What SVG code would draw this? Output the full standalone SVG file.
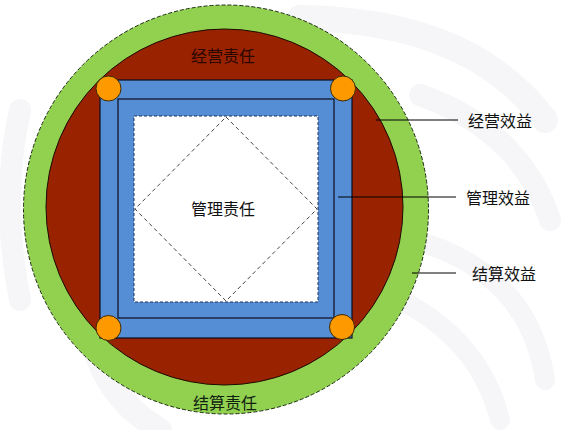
<svg xmlns="http://www.w3.org/2000/svg" width="572" height="430" viewBox="0 0 572 430">
<style>
.lbl{font-family:"Noto Sans CJK SC","Noto Sans",sans-serif;font-size:16px;fill:#111;text-anchor:middle;dominant-baseline:central}
.lead{stroke:#000;stroke-width:1;fill:none}
.wm{fill:none;stroke:#f6f6f8;stroke-linecap:round}
.dot{fill:#ff9900;stroke:#3a2a00;stroke-width:1}
</style>
<rect width="572" height="430" fill="#ffffff"/>
<g id="watermark">
<path class="wm" stroke-width="26" d="M300 18 Q470 20 545 120"/>
<path class="wm" stroke-width="22" d="M420 95 Q520 130 550 220"/>
<path class="wm" stroke-width="20" d="M430 245 Q530 280 545 380"/>
<path class="wm" stroke-width="20" d="M400 300 Q480 340 500 420"/>
<path class="wm" stroke-width="22" d="M20 110 Q0 200 20 300"/>
<path class="wm" stroke-width="24" d="M95 350 Q110 400 160 430"/>
</g>
<g id="outer-ring">
<ellipse cx="226" cy="209.5" rx="202.5" ry="204.5" fill="#92d050" stroke="#1a2a10" stroke-width="1" stroke-dasharray="4,2"/>
</g>
<g id="inner-circle">
<ellipse cx="224.5" cy="207" rx="178.5" ry="178" fill="#992200" stroke="#1a0a00" stroke-width="1"/>
</g>
<g id="frame">
<rect x="100" y="80" width="252" height="258" fill="#558ed5" stroke="#0a0a20" stroke-width="1.2"/>
<rect x="118" y="99" width="216" height="219" fill="#558ed5" stroke="#0a0a20" stroke-width="1.2"/>
</g>
<g id="core">
<rect x="134" y="116" width="184" height="186" fill="#ffffff" stroke="#1f3060" stroke-width="1" stroke-dasharray="3,2"/>
<polygon points="226,117 317,209 226,301 135,209" fill="none" stroke="#444" stroke-width="1" stroke-dasharray="4,3"/>
</g>
<g id="corners">
<circle class="dot" cx="108.5" cy="88.5" r="12.5"/>
<circle class="dot" cx="343" cy="88.5" r="12.5"/>
<circle class="dot" cx="108.5" cy="328" r="12.5"/>
<circle class="dot" cx="342" cy="327" r="12.5"/>
</g>
<g id="connectors">
<line class="lead" x1="376" y1="120" x2="458" y2="120"/>
<line class="lead" x1="338" y1="197" x2="456" y2="197"/>
<line class="lead" x1="412" y1="273" x2="456" y2="273"/>
</g>
<g id="labels">
<text class="lbl" x="223" y="55" style="fill:#2a0800">经营责任</text>
<text class="lbl" x="223" y="208">管理责任</text>
<text class="lbl" x="225" y="402" style="fill:#102010">结算责任</text>
<text class="lbl" x="500" y="120">经营效益</text>
<text class="lbl" x="498" y="197">管理效益</text>
<text class="lbl" x="504" y="273">结算效益</text>
</g>
</svg>
